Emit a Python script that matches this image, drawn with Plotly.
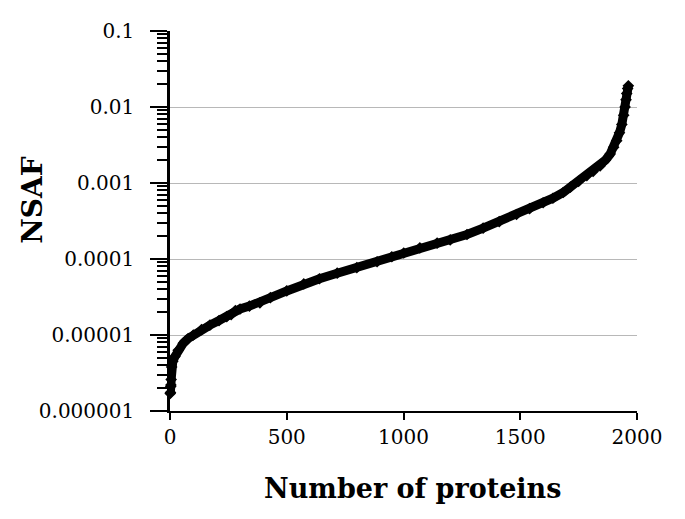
import plotly.graph_objects as go

# Werte (Rang des Proteins, NSAF)
protein_rank = [1, 2, 3, 4, 5, 7, 12, 21, 35, 57, 78, 100, 135, 171, 210, 243, 262,
                280, 300, 340, 385, 430, 500, 573, 640, 716, 800, 887, 950, 1001,
                1070, 1144, 1200, 1272, 1341, 1410, 1484, 1540, 1598, 1640, 1684,
                1715, 1750, 1785, 1812, 1842, 1865, 1885, 1900, 1913, 1925, 1935,
                1943, 1949, 1953, 1956, 1960, 1963]
nsaf = [1.7e-6, 1.75e-6, 2.1e-6, 2.2e-6, 2.6e-6, 3.8e-6, 4.5e-6, 5.2e-6, 6.3e-6,
        7.8e-6, 9.0e-6, 1.0e-5, 1.18e-5, 1.35e-5, 1.55e-5, 1.75e-5, 1.85e-5,
        2.1e-5, 2.2e-5, 2.4e-5, 2.65e-5, 3.1e-5, 3.8e-5, 4.7e-5, 5.5e-5, 6.5e-5,
        7.7e-5, 9.2e-5, 1.07e-4, 1.2e-4, 1.4e-4, 1.62e-4, 1.78e-4, 2.1e-4,
        2.55e-4, 3.1e-4, 3.85e-4, 4.6e-4, 5.5e-4, 6.3e-4, 7.5e-4,
        8.8e-4, 1.05e-3, 1.25e-3, 1.42e-3, 1.68e-3, 2.0e-3, 2.4e-3, 2.95e-3,
        3.6e-3, 4.6e-3, 5.9e-3, 7.8e-3, 1.0e-2, 1.25e-2, 1.5e-2, 1.75e-2, 1.9e-2]

y_tickvals = [1e-6, 1e-5, 1e-4, 1e-3, 1e-2, 1e-1]
y_ticktext = ["0.000001", "0.00001", "0.0001", "0.001", "0.01", "0.1"]
x_tickvals = [0, 500, 1000, 1500, 2000]

FONT = "DejaVu Serif"

fig = go.Figure()
fig.add_trace(
    go.Scatter(
        x=protein_rank,
        y=nsaf,
        mode="lines+markers",
        line=dict(color="black", width=9),
        marker=dict(symbol="diamond", size=9, color="black"),
        cliponaxis=False,
        showlegend=False,
    )
)

# Seite hat 8px Rand im Browser -> Figur entsprechend kleiner
fig.update_layout(
    width=677,
    height=511,
    margin=dict(l=162, r=48, t=23, b=108),
    paper_bgcolor="white",
    plot_bgcolor="white",
    font=dict(family=FONT, size=20, color="black"),
    xaxis=dict(
        range=[0, 2000],
        tickvals=x_tickvals,
        ticks="outside",
        ticklen=7,
        tickwidth=2,
        tickcolor="black",
        showline=True,
        linecolor="black",
        linewidth=2,
        showgrid=False,
        zeroline=False,
        tickfont=dict(family=FONT, size=20),
    ),
    yaxis=dict(
        type="log",
        range=[-6, -1],
        tickvals=y_tickvals,
        ticktext=y_ticktext,
        ticks="outside",
        ticklen=17,
        tickwidth=2,
        tickcolor="black",
        ticklabelstandoff=12,
        minor=dict(ticks="outside", ticklen=10, tickwidth=2, tickcolor="black",
                   dtick="D1", showgrid=False),
        showline=True,
        linecolor="black",
        linewidth=2.5,
        showgrid=True,
        gridcolor="#b8b8b8",
        gridwidth=1,
        zeroline=False,
        tickfont=dict(family=FONT, size=20),
    ),
    annotations=[
        dict(text="<b>NSAF</b>", xref="paper", yref="paper", x=-0.296, y=0.555,
             xanchor="center", yanchor="middle",
             textangle=-90, showarrow=False, font=dict(family=FONT, size=28)),
        dict(text="<b>Number of proteins</b>", xref="paper", yref="paper",
             x=0.52, y=-0.205, xanchor="center", yanchor="middle",
             showarrow=False, font=dict(family=FONT, size=27)),
    ],
)

fig.write_html("out.html")
